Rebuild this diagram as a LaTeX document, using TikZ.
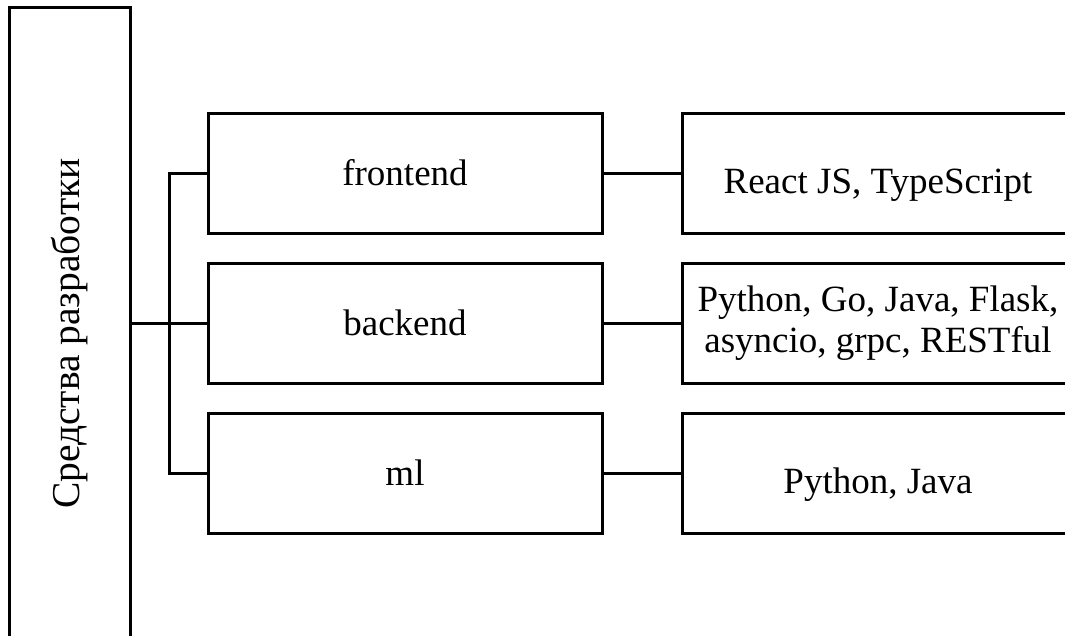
\documentclass[tikz,border=0pt]{standalone}
\usepackage{fontspec}
\setmainfont{Liberation Serif}
\begin{document}
\begin{tikzpicture}[x=1pt,y=-1pt,
  box/.style={draw=black,line width=3pt,rectangle,inner sep=0pt,align=center,
    font=\fontsize{37}{40.5}\selectfont},
  midbox/.style={box,minimum width=394pt,minimum height=120pt},
  techbox/.style={box,minimum width=392pt,minimum height=120pt},
  lowtext/.style={text height=40pt,text depth=0pt},
  conn/.style={draw=black,line width=3pt}]
\useasboundingbox (0,0) rectangle (1065,635);
\clip (0,0) rectangle (1065,635);
\node[box,minimum width=121pt,minimum height=653pt] (root) at (69.5,333.5)
  {\rotatebox{90}{\fontsize{39.5}{44}\selectfont Средства разработки}};
\node[midbox] (fe) at (405,173) {frontend};
\node[midbox] (be) at (405,323) {backend};
\node[midbox] (ml) at (405,473) {ml};
\node[techbox,lowtext] (fet) at (878,173) {React JS, TypeScript};
\node[techbox] (bet) at (878,323) {Python, Go, Java, Flask,\\asyncio, grpc, RESTful};
\node[techbox,lowtext] (mlt) at (878,473) {Python, Java};
\coordinate (bus) at (169,323);
\draw[conn] (root.east |- be.west) -- (be.west);
\draw[conn] (fe.west) -| (bus |- fe.west) -- (bus |- ml.west) -- (ml.west);
\draw[conn] (fe.east) -- (fet.west);
\draw[conn] (be.east) -- (bet.west);
\draw[conn] (ml.east) -- (mlt.west);
\end{tikzpicture}
\end{document}
